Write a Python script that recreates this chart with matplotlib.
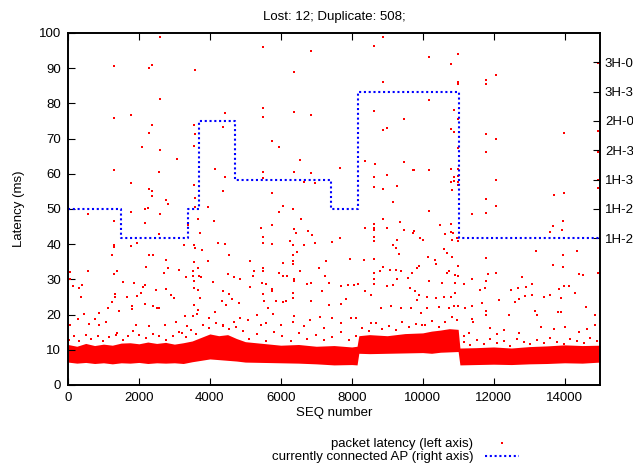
import matplotlib
matplotlib.use("Agg")
from matplotlib import pyplot as plt

plt.rcParams['font.family'] = ['Liberation Sans', 'DejaVu Sans']
plt.rcParams['font.size'] = 9.5

# Bulk of the packets: lower / upper edge of the dense latency band (ms)
band_seq = [0, 250, 500, 750, 1000, 1250, 1500, 1750, 2000, 2250, 2500, 2750,
            3000, 3250, 3500, 3750, 4000, 4250, 4500, 4750, 5000, 5500, 6000,
            6500, 7000, 7500, 8000, 8150, 8200, 8500, 9000, 9500, 10000, 10250,
            10500, 10750, 11000, 11050, 11500, 12000, 12500, 13000, 13500,
            14000, 14500, 15000]
band_lo = [6.5, 6.2, 6.4, 6.1, 6.3, 6.0, 6.3, 6.2, 6.4, 6.1, 6.3, 6.2,
           6.3, 6.1, 6.6, 7.0, 7.4, 7.2, 7.0, 6.8, 6.5, 6.4, 6.3,
           6.2, 6.0, 5.7, 5.8, 5.7, 9.0, 8.9, 9.0, 9.1, 9.2, 9.0,
           9.3, 9.4, 9.5, 5.7, 5.8, 5.9, 5.8, 6.0, 6.1,
           6.3, 6.2, 6.5]
band_hi = [11.5, 11.0, 11.8, 11.2, 11.6, 11.3, 11.9, 12.0, 11.7, 12.2, 11.8, 12.1,
           11.6, 12.0, 12.5, 13.5, 14.5, 14.0, 14.3, 13.2, 12.3, 11.8, 11.3,
           11.5, 11.0, 11.2, 10.8, 11.0, 14.0, 14.3, 14.0, 14.6, 14.8, 15.3,
           15.6, 16.0, 15.8, 10.5, 10.6, 10.8, 10.5, 10.9, 11.1,
           11.4, 11.2, 11.3]

# Sparse samples above the band
spike_seq = [
    # 0 - 5000, upper half
    2602, 1288, 2359, 2274, 3571, 2602, 4435, 1288, 1767, 2359, 3552, 4361,
    2274, 3571, 2077, 2602, 3552, 3081, 4135, 1288, 2575, 4435, 1767, 2274,
    3552, 2359, 4361, 2359, 2772, 3580, 2819, 3938, 2246, 3580,
    # 5000 - 10000, upper half
    8889, 5506, 8626, 6860, 6381, 8889, 5506, 5488, 6381, 6860, 8626, 9482,
    8889, 9002, 5742, 5948, 6549, 8372, 8645, 9482, 7668, 5506, 6381, 6860,
    9754, 9716, 5488, 6662, 6963, 8626, 9002, 8635, 9266, 8889, 5742, 9162,
    6052, 6351,
    # 10000 - 15000, upper half
    10986, 10186, 10788, 14932, 12065, 11783, 11783, 10986, 10986, 10186, 10881,
    10986, 10788, 10890, 11783, 12065, 13974, 14932, 10986, 11783, 14932, 10186,
    10806, 10986, 10890, 10986, 10788, 10890, 10986, 10986, 12065, 14932, 14932,
    10825, 13709, 13974, 11783, 12065,
    # 0 - 5000, lower half
    564, 1767, 2171, 2603, 1288, 2171, 3392, 3665, 3712, 4116, 2575, 1954,
    1288, 1288, 1767, 3279, 3552, 3589, 3777, 4237, 4434, 4530, 1240, 2274,
    2387, 2772, 3552, 3674, 3938, 2208, 1381, 1288, 564, 56, 56, 132,
    310, 385, 357, 2819, 2715, 3129, 3326, 3524, 3524, 3552, 3684, 3758,
    4079, 4510, 4688, 4840, 1559, 1869, 2171, 2123, 2481, 2754, 2988, 2913,
    1316, 1316, 1663, 1954, 2049, 1240, 1796, 1796, 2179, 2405, 2509, 2575,
    1136, 1446, 3552, 3674, 3721, 3552, 3674, 3637, 3524, 3298, 4360, 4549,
    4623, 4830, 4454, 4332, 3983, 4135, 273, 460, 883, 770, 1071, 66,
    583, 883, 1390, 1917, 2293, 2744, 3045, 3214, 3354, 4361, 4680, 4840,
    # 5000 - 10000, lower half
    5948, 6352, 6559, 5450, 5742, 6371, 5497, 5497, 5742, 6436, 6757, 6878,
    6249, 6352, 6662, 6963, 7451, 7668, 6464, 6352, 6352, 5131, 6070, 6352,
    7264, 7941, 8344, 8635, 8372, 8635, 8635, 8635, 8635, 8635, 8889, 9002,
    9368, 9482, 9755, 9716, 9923, 9172, 9238, 9266, 9332, 5497, 5497, 5243,
    5225, 5948, 6061, 6165, 6540, 7085, 7236, 6371, 6371, 5478, 5573, 5140,
    5751, 5751, 6748, 6841, 7367, 7696, 7903, 8063, 8175, 7160, 6352, 5506,
    5525, 5873, 6070, 6155, 6352, 6860, 7367, 7687, 7828, 8382, 8532, 8635,
    8635, 8635, 8795, 8889, 9077, 9238, 9379, 9002, 9172, 9266, 9585, 9698,
    9829, 9895, 9633, 9773, 9895, 9848, 5638, 5779, 5318, 5074, 5450, 5573,
    5996, 6371, 6352, 6653, 6831, 7095, 7217, 7687, 7969, 7451, 8109, 8532,
    8813, 9097, 9379, 9660, 9942,
    # 10000 - 15000, lower half
    10186, 11389, 11783, 10487, 10788, 10637, 10788, 10844, 10825, 10957, 10986,
    10000, 13596, 13662, 13934, 13962, 13201, 14357, 10590, 10684, 10825, 11783,
    10149, 10337, 10384, 10986, 13953, 13672, 13962, 10750, 10693, 10919, 10986,
    11840, 12065, 14395, 14509, 14932, 10186, 10544, 10919, 11389, 11154, 12798,
    11792, 12497, 12685, 12911, 13071, 13850, 13974, 14115, 11764, 11605, 12140,
    12610, 12704, 12892, 13071, 13409, 13596, 13906, 14283, 10121, 10384, 10610,
    10788, 10919, 10130, 10449, 10731, 10872, 10986, 11201, 11389, 11792, 11792,
    11389, 11417, 11671, 12422, 13155, 13220, 13812, 13906, 14603, 14866, 11905,
    12282, 12704, 13342, 13691, 14020, 14395, 14631, 14866, 12094, 11154, 11295,
    # just above the band
    38, 178, 319, 507, 648, 837, 977, 1165, 1353, 1541, 1682, 1823,
    2011, 2199, 2387, 2575, 2763, 2951, 3138, 3326, 3467, 3608, 3796, 3984,
    4172, 4361, 4548, 4736, 4924,
    5102, 5337, 5572, 5807, 6042, 6277, 6512, 6747, 6982, 7217, 7452, 7687,
    7921, 8109, 8297, 8485, 8673, 8861, 9049, 9237, 9425, 9613, 9801, 9989,
    10073, 10261, 10450, 10637, 10825, 10966, 11154, 11342, 11530, 11718,
    11906, 12094, 12282, 12469, 12657, 12845, 13033, 13221, 13409, 13597,
    13785, 13973, 14161, 14349, 14537, 14725, 14913,
]
spike_lat = [
    98.9, 90.6, 91.0, 90.1, 89.6, 81.3, 77.3, 75.9, 76.8, 73.8, 74.0, 73.3,
    71.7, 71.2, 67.7, 66.7, 67.9, 64.3, 61.4, 61.1, 60.4, 59.0, 57.4, 55.8,
    56.9, 55.1, 55.1, 53.8, 52.6, 53.0, 51.5, 50.6, 50.3, 50.6,
    98.9, 95.9, 96.3, 94.9, 89.0, 86.2, 78.7, 76.2, 77.6, 76.8, 77.9, 75.6,
    72.5, 73.1, 69.4, 67.7, 63.9, 63.6, 62.7, 63.4, 61.7, 60.6, 60.6, 60.1,
    61.2, 61.0, 58.8, 57.8, 57.5, 59.2, 59.7, 56.3, 56.6, 55.6, 54.4, 52.1,
    50.9, 49.9,
    94.0, 93.3, 91.1, 91.4, 88.2, 86.7, 85.4, 86.2, 85.5, 81.0, 78.0,
    75.5, 72.7, 72.0, 71.3, 69.9, 71.5, 72.2, 67.2, 66.3, 66.3, 61.0,
    61.4, 61.5, 59.1, 59.3, 57.7, 57.9, 57.7, 56.8, 58.1, 58.2, 55.9,
    55.5, 54.0, 54.4, 52.8, 50.9,
    48.7, 49.1, 50.1, 48.7, 46.7, 46.1, 45.4, 47.2, 43.1, 46.6, 43.0, 40.4,
    39.9, 39.3, 39.5, 39.9, 39.9, 38.9, 38.4, 40.4, 40.1, 36.8, 36.9, 37.0,
    37.0, 35.4, 34.9, 33.2, 35.1, 33.5, 32.5, 31.6, 32.4, 32.0, 30.1, 28.1,
    27.6, 28.4, 24.9, 33.3, 31.8, 32.6, 30.8, 32.5, 31.0, 29.4, 31.0, 30.8,
    29.3, 31.6, 30.8, 30.2, 29.3, 29.1, 28.3, 27.8, 27.1, 27.4, 24.8, 25.5,
    25.8, 24.9, 24.9, 25.3, 26.2, 23.7, 22.3, 21.6, 22.9, 22.4, 21.9, 22.0,
    21.9, 20.9, 27.5, 26.9, 24.8, 22.8, 21.3, 20.3, 19.7, 19.7, 26.6, 25.8,
    24.5, 23.4, 22.8, 24.0, 19.1, 20.7, 18.7, 20.1, 20.4, 18.7, 17.8, 17.1,
    17.3, 16.9, 14.7, 17.1, 16.7, 16.9, 18.0, 14.7, 16.7, 17.1, 18.0, 19.0,
    49.1, 49.9, 47.1, 44.5, 45.4, 44.2, 42.1, 40.4, 40.0, 43.2, 43.8, 42.5,
    40.8, 39.7, 39.9, 40.2, 40.5, 41.8, 37.9, 36.8, 35.1, 35.3, 34.7, 34.5,
    35.1, 35.7, 35.4, 35.9, 44.5, 45.7, 44.6, 44.0, 42.1, 41.0, 47.1, 44.6,
    46.3, 44.0, 43.8, 43.2, 41.8, 39.7, 38.9, 41.3, 37.2, 33.2, 32.5, 32.5,
    31.0, 31.8, 30.9, 30.9, 32.5, 33.2, 30.9, 30.2, 29.5, 29.0, 28.7, 27.8,
    27.4, 26.8, 28.7, 28.9, 29.1, 28.2, 28.4, 28.4, 28.7, 26.8, 26.1, 25.8,
    23.9, 24.0, 23.7, 23.9, 24.7, 23.9, 22.6, 22.9, 24.5, 26.8, 25.5, 31.7,
    30.2, 28.7, 32.5, 33.6, 32.6, 32.6, 32.5, 28.0, 28.5, 30.0, 30.4, 31.8,
    33.2, 33.7, 27.6, 26.8, 25.5, 24.1, 21.9, 20.2, 19.8, 18.5, 17.1, 17.6,
    17.1, 19.5, 18.0, 16.7, 18.6, 19.3, 16.2, 17.6, 19.0, 19.0, 19.0, 17.6,
    21.9, 22.4, 21.9, 21.9, 20.4,
    49.5, 48.7, 48.9, 45.5, 45.7, 43.0, 43.5, 43.1, 41.3, 41.8, 40.8,
    41.3, 43.4, 45.3, 44.0, 46.5, 38.2, 38.0, 38.7, 37.5, 36.4, 36.1,
    36.4, 35.6, 34.4, 33.9, 37.0, 34.0, 33.4, 32.3, 31.7, 31.3, 31.1,
    31.6, 31.9, 31.5, 31.3, 31.7, 29.6, 29.0, 29.0, 30.0, 28.8, 30.7,
    29.5, 27.1, 27.6, 27.8, 28.7, 27.4, 28.1, 28.0, 27.5, 27.1, 24.2,
    23.6, 24.5, 25.4, 25.5, 25.0, 25.5, 24.7, 26.1, 24.9, 24.7, 24.9,
    24.9, 26.0, 21.9, 22.1, 21.9, 22.4, 22.3, 21.9, 22.5, 20.9, 19.8,
    18.7, 17.8, 23.3, 19.8, 20.9, 19.8, 20.6, 20.6, 22.1, 19.9, 16.2,
    15.7, 14.8, 16.4, 16.0, 16.4, 15.1, 16.0, 17.1, 14.5, 13.9, 14.8,
    12.9, 13.8, 12.4, 14.3, 13.2, 13.8, 12.6, 13.5, 14.3, 12.9, 13.8, 15.2,
    14.3, 13.4, 14.5, 13.8, 12.9, 14.0, 15.0, 13.5, 15.7, 14.5, 17.1, 16.2,
    17.6, 16.7, 16.0, 16.4, 15.2,
    13.2, 14.5, 12.6, 15.1, 13.8, 12.4, 14.9, 13.0, 14.2, 12.8, 13.6, 15.0,
    12.7, 13.9, 16.2, 15.4, 17.5, 15.9, 16.8, 15.6, 18.0, 16.4, 17.2, 16.9,
    17.0, 18.3, 16.5, 17.8, 19.2, 18.6, 12.1, 11.3, 12.8, 11.6,
    13.2, 11.9, 12.5, 11.2, 13.0, 12.2, 11.5, 12.9, 11.8, 13.4,
    12.3, 11.7, 13.1, 12.6, 12.0, 13.3, 12.4,
]

# Access point the client is associated with (right axis index)
ap_seq = [0, 1494, 3392, 3693, 4699, 7423, 8175, 11013, 15000]
ap_idx = [6, 5, 6, 9, 7, 6, 10, 5, 5]
ap_ticks = [5, 6, 7, 8, 9, 10, 11]
ap_names = ["1H-2", "1H-2", "1H-3", "2H-3", "2H-0", "3H-3", "3H-0"]

fig = plt.figure(figsize=(6.33, 4.70), dpi=100)
ax = fig.add_axes([0.1074, 0.1809, 0.8405, 0.7489])

ax.fill_between(band_seq, band_lo, band_hi, color='red', linewidth=0)
pts, = ax.plot(spike_seq, spike_lat, ls='none', marker='s', ms=1.9, mew=0,
               color='red', label='packet latency (left axis)')

ax.set_xlim(0, 15000)
ax.set_ylim(0, 100)
ax.set_xticks(range(0, 15000, 2000))
ax.set_yticks(range(0, 101, 10))
ax.tick_params(axis='x', direction='in', length=5, top=True, pad=5)
ax.tick_params(axis='y', direction='in', length=5, right=False, pad=5)
ax.set_xlabel('SEQ number', labelpad=2)
ax.set_ylabel('Latency (ms)', labelpad=10)
ax.set_title('Lost: 12; Duplicate: 508;', fontsize=9.5, pad=9)

ax2 = ax.twinx()
ap_line, = ax2.plot(ap_seq, ap_idx, drawstyle='steps-post', color='blue',
                    ls=(0, (1, 1.3)), lw=1.5,
                    label='currently connected AP (right axis)')
ax2.set_ylim(0, 12)
ax2.set_yticks(ap_ticks)
ax2.set_yticklabels(ap_names)
ax2.tick_params(axis='y', direction='in', length=5, pad=3.5)

for a in (ax, ax2):
    for s in a.spines.values():
        s.set_linewidth(1.2)

fig.legend([pts, ap_line], [pts.get_label(), ap_line.get_label()],
           loc='center', bbox_to_anchor=(0.625, 0.041), markerfirst=False,
           frameon=False, handlelength=2.6, handletextpad=0.9,
           labelspacing=0.05, borderpad=0)

fig.savefig('out.png', dpi=100)
